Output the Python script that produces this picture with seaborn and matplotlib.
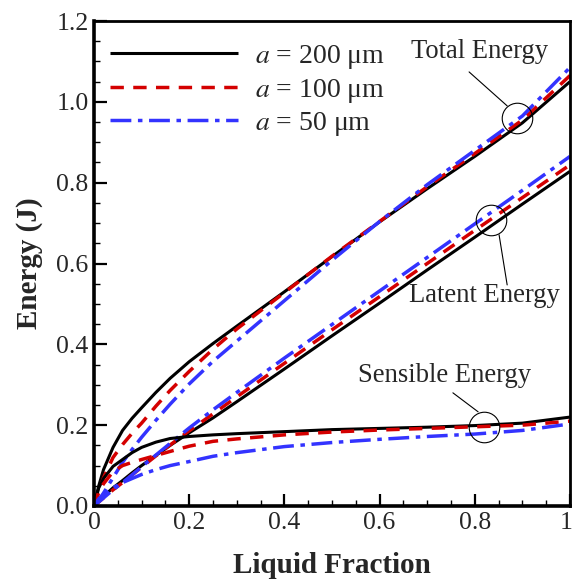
import matplotlib
matplotlib.use("Agg")
import matplotlib.pyplot as plt
import matplotlib.transforms as mtransforms
from matplotlib.ticker import MultipleLocator
import numpy as np
import pandas as pd
import seaborn as sns

# Liquid fraction sample points
liquid_fraction = [0, 0.01, 0.02, 0.04, 0.06, 0.08, 0.1, 0.13, 0.16, 0.2,
                   0.25, 0.3, 0.4, 0.5, 0.6, 0.7, 0.8, 0.9, 1.0]

# Total energy (J)
total_200 = [0, 0.05, 0.09, 0.145, 0.187, 0.217, 0.243, 0.281, 0.316, 0.357,
             0.402, 0.445, 0.53, 0.617, 0.703, 0.785, 0.865, 0.948, 1.05]
total_100 = [0, 0.035, 0.07, 0.12, 0.152, 0.18, 0.205, 0.247, 0.286, 0.333,
             0.388, 0.438, 0.528, 0.618, 0.704, 0.79, 0.872, 0.955, 1.065]
total_50 = [0, 0.015, 0.032, 0.07, 0.108, 0.14, 0.17, 0.212, 0.252, 0.302,
            0.358, 0.408, 0.508, 0.608, 0.704, 0.795, 0.88, 0.965, 1.085]

# Latent energy (J)
latent_200 = [0, 0.012, 0.024, 0.045, 0.063, 0.082, 0.1, 0.125, 0.15, 0.181,
              0.218, 0.258, 0.339, 0.421, 0.502, 0.584, 0.665, 0.747, 0.828]
latent_100 = [0, 0.01, 0.02, 0.04, 0.058, 0.077, 0.096, 0.124, 0.151, 0.186,
              0.228, 0.27, 0.353, 0.436, 0.518, 0.6, 0.682, 0.763, 0.844]
latent_50 = [0, 0.01, 0.02, 0.04, 0.058, 0.077, 0.097, 0.126, 0.155, 0.193,
             0.238, 0.281, 0.366, 0.449, 0.532, 0.615, 0.698, 0.781, 0.865]

# Sensible energy (J)
sensible_200 = [0, 0.045, 0.068, 0.098, 0.115, 0.132, 0.145, 0.158, 0.167, 0.172,
                0.176, 0.179, 0.184, 0.189, 0.192, 0.195, 0.199, 0.205, 0.22]
sensible_100 = [0, 0.035, 0.055, 0.085, 0.1, 0.108, 0.115, 0.125, 0.135, 0.148,
                0.16, 0.166, 0.176, 0.183, 0.188, 0.192, 0.196, 0.2, 0.21]
sensible_50 = [0, 0.018, 0.028, 0.045, 0.058, 0.068, 0.078, 0.09, 0.1, 0.11,
               0.123, 0.132, 0.147, 0.157, 0.165, 0.172, 0.178, 0.187, 0.203]

sizes = ["200", "100", "50"]
size_labels = [r"$a$ = 200 μm", r"$a$ = 100 μm", r"$a$ = 50 μm"]

x_ticks = [0, 0.2, 0.4, 0.6, 0.8, 1.0]
x_tick_labels = ["0", "0.2", "0.4", "0.6", "0.8", "1"]
y_ticks = [0, 0.2, 0.4, 0.6, 0.8, 1.0, 1.2]
y_tick_labels = ["0.0", "0.2", "0.4", "0.6", "0.8", "1.0", "1.2"]

# Callout annotations: label, text position, leader line, circle centre
callout_labels = ["Total Energy", "Latent Energy", "Sensible Energy"]
callout_text_xy = [(0.809, 1.124), (0.821, 0.522), (0.737, 0.322)]
callout_line_start = [(0.788, 1.074), (0.851, 0.671), (0.754, 0.280)]
callout_line_end = [(0.868, 0.990), (0.868, 0.547), (0.807, 0.233)]
callout_circle = [(0.889, 0.960), (0.834, 0.708), (0.819, 0.196)]

series = {
    "Total": [total_200, total_100, total_50],
    "Latent": [latent_200, latent_100, latent_50],
    "Sensible": [sensible_200, sensible_100, sensible_50],
}
rows = []
for kind, curves in series.items():
    for size, vals in zip(sizes, curves):
        for xv, yv in zip(liquid_fraction, vals):
            rows.append({"kind": kind, "size": size, "x": xv, "y": yv})
df = pd.DataFrame(rows)

sns.set_theme(style="white")
plt.rcParams["font.family"] = ["Liberation Serif", "DejaVu Serif"]
plt.rcParams["mathtext.fontset"] = "stix"

fig = plt.figure(figsize=(5.74, 5.84), dpi=100)
ax = fig.add_axes([94 / 574, 1 - 506 / 584, 476 / 574, 485 / 584])

colors = {"200": "black", "100": "#d40000", "50": "#3333ff"}
widths = {"200": 2.2, "100": 2.5, "50": 2.5}
dash_styles = {"200": (None, None), "100": (3.85, 2.7),
               "50": (6.0, 1.9, 1.3, 1.9)}

handles = {}
for kind in series:
    for size in sizes:
        sub = df[(df["kind"] == kind) & (df["size"] == size)]
        n_before = len(ax.lines)
        sns.lineplot(data=sub, x="x", y="y", ax=ax, color=colors[size],
                     linewidth=widths[size], estimator=None, sort=False,
                     legend=False)
        line = ax.lines[n_before]
        line.set_solid_capstyle("butt")
        line.set_dash_capstyle("butt")
        line.set_solid_joinstyle("round")
        if dash_styles[size][0] is not None:
            line.set_dashes(dash_styles[size])
        handles.setdefault(size, line)

ax.set_xlim(0, 1)
ax.set_ylim(0, 1.2)
ax.set_xticks(x_ticks)
ax.set_xticklabels(x_tick_labels)
ax.set_yticks(y_ticks)
ax.set_yticklabels(y_tick_labels)
ax.xaxis.set_minor_locator(MultipleLocator(0.05))
ax.yaxis.set_minor_locator(MultipleLocator(0.05))
ax.tick_params(which="major", direction="in", length=9, width=1.6,
               labelsize=18.5, color="black", pad=4,
               bottom=True, left=True, top=False, right=False)
ax.tick_params(which="minor", direction="in", length=4.5, width=1.0,
               color="black", bottom=True, left=True, top=False, right=False)

# keep the last x tick label inside the canvas
last_label = ax.get_xticklabels()[-1]
last_label.set_transform(last_label.get_transform() +
                         mtransforms.ScaledTranslation(-3 / 72, 0,
                                                       fig.dpi_scale_trans))

for sp in ax.spines.values():
    sp.set_color("black")
ax.spines["left"].set_linewidth(2.6)
ax.spines["bottom"].set_linewidth(2.6)
ax.spines["top"].set_linewidth(2.0)
ax.spines["right"].set_linewidth(2.0)

ax.set_xlabel("Liquid Fraction", fontsize=21, fontweight="bold", labelpad=13)
ax.set_ylabel("Energy (J)", fontsize=21, fontweight="bold", labelpad=9.5)

for label, txy, ls, le, cc in zip(callout_labels, callout_text_xy,
                                  callout_line_start, callout_line_end,
                                  callout_circle):
    ax.text(txy[0], txy[1], label, fontsize=19.2, ha="center", va="center")
    ax.plot([ls[0], le[0]], [ls[1], le[1]], color="black", lw=0.8)
    ax.plot([cc[0]], [cc[1]], marker="o", ms=22, mfc="none", mec="black",
            mew=0.8, ls="none")

leg = ax.legend([handles[s] for s in sizes], size_labels,
                loc="upper left", bbox_to_anchor=(0.022, 0.966),
                frameon=False, fontsize=20, handlelength=4.6,
                handletextpad=0.62, labelspacing=0.2, borderpad=0.2,
                borderaxespad=0)

fig.savefig("out.png", dpi=100)
